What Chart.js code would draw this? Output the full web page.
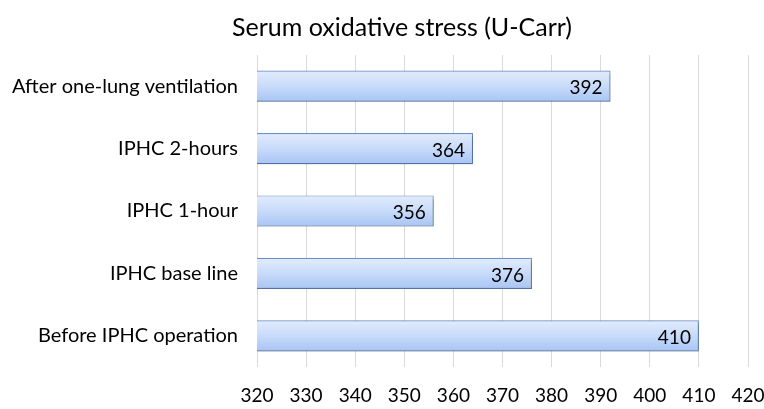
<!DOCTYPE html>
<html>
<head>
<meta charset="utf-8">
<script src="https://cdn.jsdelivr.net/npm/chart.js@4/dist/chart.umd.min.js"></script>
<style>
  html, body { margin: 0; padding: 0; background: #fff; }
  #wrap { width: 764px; height: 409px; }
</style>
</head>
<body>
<div id="wrap"><canvas id="chart"></canvas></div>
<script>
// values, top to bottom
const categories = [
  "After one-lung ventilation",
  "IPHC 2-hours",
  "IPHC 1-hour",
  "IPHC base line",
  "Before IPHC operation"
];
const values = [392, 364, 356, 376, 410];
const xTicks = [320, 330, 340, 350, 360, 370, 380, 390, 400, 410, 420];

const FONT = "Lato, 'Open Sans', sans-serif";

// gradient for each bar, light at the top, deeper blue at the bottom
function barFill(ctx) {
  const chart = ctx.chart;
  const y = chart.scales.y;
  if (!chart.chartArea || !y || ctx.dataIndex === undefined) return "#bcd3f7";
  const c = y.getPixelForValue(ctx.dataIndex);
  if (!isFinite(c)) return "#bcd3f7";
  const h = 16;
  const g = chart.ctx.createLinearGradient(0, c - h, 0, c + h);
  g.addColorStop(0, "#e3ecfc");
  g.addColorStop(0.5, "#c8dbfa");
  g.addColorStop(1, "#a6c4f4");
  return g;
}

// value labels at the end, inside the bars
const endLabels = {
  id: "endLabels",
  afterDatasetsDraw(chart) {
    const ctx = chart.ctx;
    const meta = chart.getDatasetMeta(0);
    ctx.save();
    ctx.font = "19px " + FONT;
    ctx.fillStyle = "#000";
    ctx.textAlign = "right";
    ctx.textBaseline = "middle";
    meta.data.forEach((bar, i) => {
      ctx.fillText(values[i], bar.x - 8, bar.y + 2);
    });
    ctx.restore();
  }
};

// soft shadow under the bars
const barShadow = {
  id: "barShadow",
  beforeDatasetsDraw(chart) {
    const ctx = chart.ctx;
    ctx.save();
    ctx.shadowColor = "rgba(0,0,0,0.25)";
    ctx.shadowBlur = 3;
    ctx.shadowOffsetX = 2;
    ctx.shadowOffsetY = 2;
  },
  afterDatasetsDraw(chart) {
    chart.ctx.restore();
  }
};

// the title sits a bit right of the canvas centre
const titleShift = {
  id: "titleShift",
  afterLayout(chart) {
    if (chart.titleBlock) chart.titleBlock.left += 56;
  }
};

new Chart(document.getElementById("chart"), {
  type: "bar",
  data: {
    labels: categories,
    datasets: [{
      data: values,
      backgroundColor: barFill,
      borderColor: "#6a91cf",
      borderWidth: 1.2,
      borderSkipped: false,
      barPercentage: 0.5,
      categoryPercentage: 1
    }]
  },
  options: {
    indexAxis: "y",
    responsive: true,
    maintainAspectRatio: false,
    animation: false,
    layout: { padding: { left: 0, right: 16, top: 0, bottom: 0 } },
    plugins: {
      legend: { display: false },
      tooltip: { enabled: false },
      title: {
        display: true,
        text: "Serum oxidative stress (U-Carr)",
        color: "#000",
        font: { family: FONT, size: 25, weight: "normal" },
        padding: { top: 13, bottom: 12 }
      }
    },
    scales: {
      x: {
        min: 320,
        max: 420,
        afterBuildTicks(axis) {
          axis.ticks = xTicks.map(v => ({ value: v }));
        },
        afterFit(axis) {
          axis.height = 42;
          axis.paddingLeft = 0;
          axis.paddingRight = 0;
        },
        grid: {
          color: "#d9d9d9",
          drawTicks: false
        },
        border: { display: false },
        ticks: {
          color: "#000",
          padding: 17,
          font: { family: FONT, size: 19 }
        }
      },
      y: {
        afterFit(axis) { axis.width = 257; },
        grid: { display: false, drawTicks: false },
        border: { display: false },
        ticks: {
          color: "#000",
          padding: 19,
          font: { family: FONT, size: 20 }
        }
      }
    }
  },
  plugins: [barShadow, endLabels, titleShift]
});
</script>
</body>
</html>
